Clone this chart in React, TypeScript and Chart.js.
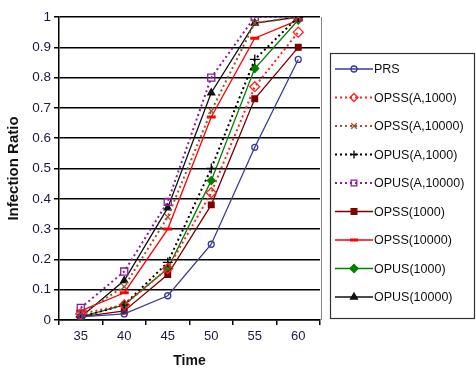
import React, { useEffect, useRef } from "react";
import { Chart, registerables } from "chart.js";
import { drawPoint } from "chart.js/helpers";
Chart.register(...registerables);

const times = ["35", "40", "45", "50", "55", "60"];
const yTicks = [0, 0.1, 0.2, 0.3, 0.4, 0.5, 0.6, 0.7, 0.8, 0.9, 1];

const prs = [0.01, 0.02, 0.08, 0.25, 0.57, 0.86];
const opssA1000 = [0.02, 0.05, 0.17, 0.42, 0.77, 0.95];
const opssA10000 = [0.02, 0.11, 0.34, 0.69, 0.98, 1.0];
const opusA1000 = [0.01, 0.05, 0.19, 0.5, 0.86, 1.0];
const opusA10000 = [0.04, 0.16, 0.39, 0.8, 1.0, 1.0];
const opss1000 = [0.01, 0.03, 0.15, 0.38, 0.73, 0.9];
const opss10000 = [0.03, 0.09, 0.3, 0.67, 0.93, 0.99];
const opus1000 = [0.01, 0.05, 0.17, 0.46, 0.83, 0.99];
const opus10000 = [0.01, 0.13, 0.37, 0.75, 0.98, 1.0];

const FONT = "'Liberation Sans', Arial, sans-serif";

const legendPlugin = {
  id: "boxLegend",
  afterDraw(chart: any) {
    const ctx = chart.ctx;
    const ca = chart.chartArea;
    ctx.save();
    ctx.strokeStyle = "#888";
    ctx.lineWidth = 1;
    ctx.beginPath();
    ctx.moveTo(ca.right + 1.5, ca.top);
    ctx.lineTo(ca.right + 1.5, ca.bottom);
    ctx.stroke();
    const bx = 330.5, by = 53.5, bw = 144, bh = 265;
    ctx.strokeStyle = "#333";
    ctx.lineWidth = 1.2;
    ctx.strokeRect(bx, by, bw, bh);
    const step = 28.5;
    const y0 = 69;
    chart.data.datasets.forEach((ds: any, i: number) => {
      const y = y0 + i * step;
      const meta = chart.getDatasetMeta(i);
      ctx.save();
      ctx.strokeStyle = ds.borderColor;
      ctx.lineWidth = ds.borderWidth;
      ctx.setLineDash(ds.borderDash || []);
      ctx.beginPath();
      ctx.moveTo(335, y);
      ctx.lineTo(373, y);
      ctx.stroke();
      ctx.setLineDash([]);
      const el = meta.data[0];
      if (el) {
        const opts = el.options;
        ctx.fillStyle = opts.backgroundColor;
        ctx.strokeStyle = opts.borderColor;
        ctx.lineWidth = opts.borderWidth;
        drawPoint(ctx, {
          pointStyle: opts.pointStyle,
          radius: Math.min(opts.radius, 4),
          borderWidth: opts.borderWidth,
          rotation: 0,
        } as any, 354, y);
      }
      ctx.restore();
      ctx.fillStyle = "#111";
      ctx.font = "12.5px " + FONT;
      ctx.textBaseline = "middle";
      ctx.fillText(ds.label, 374, y + 1);
    });
    ctx.restore();
  },
};

export default function App() {
  const ref = useRef<HTMLCanvasElement>(null);
  useEffect(() => {
    document.body.style.margin = "0";
    const mk = (
      label: string,
      data: number[],
      color: string,
      style: string,
      radius: number,
      filled: boolean,
      dashed: boolean,
      pbw = 1.3
    ) => ({
      label,
      data,
      borderColor: color,
      backgroundColor: filled ? color : "white",
      pointBorderColor: color,
      pointBackgroundColor: filled ? color : "rgba(255,255,255,0)",
      pointStyle: style,
      pointRadius: radius,
      pointBorderWidth: pbw,
      borderWidth: dashed ? 2 : 1.3,
      borderDash: dashed ? [2, 3] : [],
      tension: 0,
    });
    const chart = new Chart(ref.current!, {
      type: "line",
      data: {
        labels: times,
        datasets: [
          mk("PRS", prs, "#3b3b9c", "circle", 3, false, false),
          mk("OPSS(A,1000)", opssA1000, "#ff2020", "rectRot", 5, false, true),
          mk("OPSS(A,10000)", opssA10000, "#a0522d", "crossRot", 4, false, true),
          mk("OPUS(A,1000)", opusA1000, "#000000", "cross", 5, false, true),
          mk("OPUS(A,10000)", opusA10000, "#8b1a9b", "rect", 5, false, true),
          mk("OPSS(1000)", opss1000, "#800000", "rect", 4, true, false),
          mk("OPSS(10000)", opss10000, "#ff0000", "line", 4.5, true, false, 3),
          mk("OPUS(1000)", opus1000, "#008000", "rectRot", 4, true, false),
          mk("OPUS(10000)", opus10000, "#111111", "triangle", 4, true, false),
        ] as any,
      },
      options: {
        animation: false,
        responsive: false,
        layout: { padding: { left: 0, right: 156, top: 17, bottom: 0 } },
        plugins: { legend: { display: false }, tooltip: { enabled: false } },
        scales: {
          x: {
            type: "category",
            offset: true,
            grid: {
              offset: true,
              drawOnChartArea: false,
              drawTicks: true,
              tickLength: 5,
              color: "#000",
              lineWidth: 1.5,
            },
            border: { display: true, color: "#000", width: 1.5 },
            ticks: { color: "#1a1a40", font: { family: FONT, size: 13 }, padding: 4 },
            title: {
              display: true,
              text: "Time",
              color: "#111",
              font: { family: FONT, size: 14, weight: "bold" },
              padding: { top: 5, bottom: 0 },
            },
            afterFit: (s: any) => {
              s.height = 50;
            },
          },
          y: {
            min: 0,
            max: 1,
            afterBuildTicks: (s: any) => {
              s.ticks = yTicks.map((v) => ({ value: v }));
            },
            grid: {
              color: "#000",
              lineWidth: 1.5,
              drawTicks: true,
              tickLength: 5,
            },
            border: { display: true, color: "#000", width: 1.5 },
            ticks: {
              color: "#1a1a40",
              font: { family: FONT, size: 13.5 },
              padding: 3,
              callback: (v: any) => String(Math.round(Number(v) * 10) / 10),
            },
            title: {
              display: true,
              text: "Infection Ratio",
              color: "#111",
              font: { family: FONT, size: 15, weight: "bold" },
              padding: { top: 5, bottom: 2 },
            },
            afterFit: (s: any) => {
              s.width = 59;
            },
          },
        },
      },
      plugins: [legendPlugin],
    });
    return () => chart.destroy();
  }, []);
  return (
    <div style={{ position: "absolute", left: 0, top: 0, width: 476, height: 370, background: "#fff" }}>
      <canvas ref={ref} width={476} height={370} />
    </div>
  );
}
